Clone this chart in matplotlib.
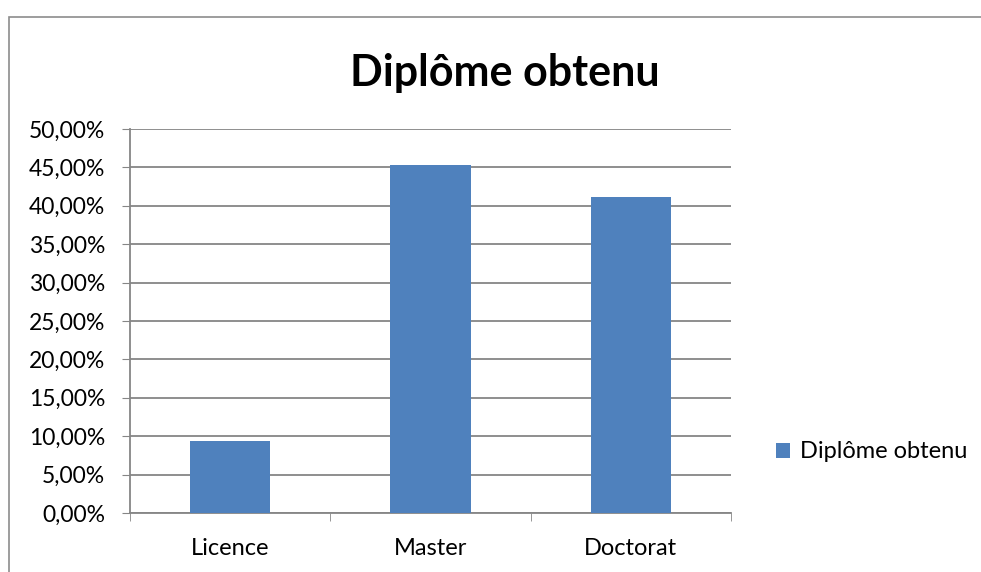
import matplotlib.pyplot as plt
from matplotlib.ticker import FuncFormatter
from matplotlib.patches import Rectangle

categories = ["Licence", "Master", "Doctorat"]
values = [9.38, 45.31, 41.2]
series_name = "Diplôme obtenu"
title = "Diplôme obtenu"

plt.rcParams["font.family"] = ["Lato", "DejaVu Sans"]

fig = plt.figure(figsize=(9.81, 5.72), dpi=100)
fig.patches.append(Rectangle((8.5 / 981, -0.1), 1.2, (572 - 16.5) / 572 + 0.1,
                             transform=fig.transFigure, fill=False,
                             edgecolor="#8c8c8c", linewidth=1.2))

ax = fig.add_axes([130 / 981, 1 - 513 / 572, 601 / 981, 384 / 572])
x = range(len(categories))
ax.bar(x, values, width=0.4, color="#4f81bd", zorder=3, label=series_name)

ax.set_xlim(-0.5, len(categories) - 0.5)
ax.set_ylim(0, 50)
ax.set_yticks(range(0, 51, 5))
ax.yaxis.set_major_formatter(FuncFormatter(lambda v, p: f"{v:.2f}%".replace(".", ",")))
ax.set_xticks(list(x))
ax.set_xticklabels(categories)
ax.set_xticks([i - 0.5 for i in range(len(categories) + 1)], minor=True)
ax.tick_params(axis="x", which="major", length=0, pad=18, labelsize=17)
ax.tick_params(axis="x", which="minor", length=6, color="#868686", direction="out")
ax.tick_params(axis="y", length=6, color="#868686", labelsize=16.5, pad=12)
ax.grid(axis="y", color="#868686", linewidth=1.3, zorder=0)

for s in ["top", "right"]:
    ax.spines[s].set_visible(False)
for s in ["left", "bottom"]:
    ax.spines[s].set_color("#868686")
    ax.spines[s].set_linewidth(1.3)

fig.text(505 / 981, 1 - 73 / 572, title, ha="center", va="center",
         fontsize=31, fontweight="bold")

fig.legend(loc="center left", bbox_to_anchor=(755 / 981, 1 - 452 / 572),
           frameon=False, fontsize=17, handlelength=0.6, handleheight=0.6,
           handletextpad=0.4)

fig.savefig("out.png", dpi=100)
